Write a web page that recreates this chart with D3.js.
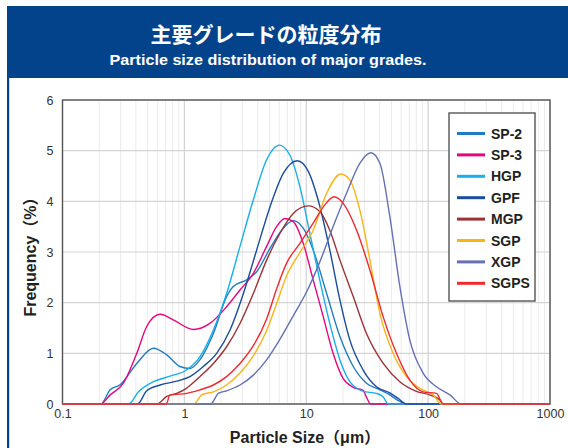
<!DOCTYPE html>
<html lang="ja">
  <head>
    <meta charset="UTF-8" />
    <title>主要グレードの粒度分布</title>
    <style>
      html, body { margin: 0; padding: 0; background: #fff; }
      svg { display: block; }
    </style>
  </head>
  <body>
    <div id="chart"></div>

    <script src="https://d3js.org/d3.v7.min.js"></script>

    <script>
      // [particle size (um), frequency (%)]
      const sp2 = [[0.1,0],[0.206,0],[0.246,0.28],[0.297,0.38],[0.407,0.8],[0.557,1.1],[0.717,0.97],[0.921,0.74],[1.11,0.7],[1.34,0.87],[1.73,1.39],[2.22,2.12],[2.52,2.32],[3.24,2.45],[3.92,2.61],[5.04,3.07],[6.48,3.47],[7.82,3.62],[9.45,3.47],[11.4,3.04],[14.7,2.18],[18.9,1.33],[24.3,0.74],[31.2,0.41],[40.2,0.28],[48.5,0.18],[58.6,0.05],[66.4,0],[1000,0]];
      const sp3 = [[0.1,0],[0.206,0],[0.246,0.18],[0.316,0.41],[0.407,1.0],[0.491,1.53],[0.632,1.77],[0.81,1.66],[1.19,1.47],[1.62,1.59],[2.22,1.92],[2.86,2.25],[3.68,2.58],[4.73,3.11],[5.71,3.5],[6.68,3.66],[7.82,3.6],[9.45,3.17],[11.4,2.45],[13.8,1.72],[16.6,1.0],[20.1,0.5],[24.3,0.33],[29.3,0.27],[31.4,0.12],[33.7,0],[1000,0]];
      const hgp = [[0.1,0],[0.348,0],[0.42,0.24],[0.557,0.44],[0.763,0.55],[1.04,0.67],[1.34,0.93],[1.73,1.46],[2.22,2.18],[2.86,3.11],[3.68,4.03],[4.73,4.82],[6.01,5.11],[7.35,4.91],[8.87,4.29],[10.7,3.37],[12.9,2.45],[15.6,1.59],[18.9,0.87],[22.8,0.44],[29.3,0.25],[37.7,0.21],[42.8,0.14],[47,0],[1000,0]];
      const gpf = [[0.1,0],[0.412,0],[0.491,0.26],[0.632,0.375],[0.865,0.45],[1.11,0.54],[1.43,0.74],[1.84,1.0],[2.37,1.46],[3.05,2.18],[3.92,3.04],[5.04,3.89],[6.48,4.55],[8.44,4.8],[10.4,4.59],[12.5,4.03],[15.6,3.04],[18.9,2.05],[22.8,1.26],[29.3,0.67],[37.7,0.34],[48.5,0.22],[56.8,0.11],[66.4,0],[1000,0]];
      const mgp = [[0.1,0],[0.593,0],[0.717,0.15],[0.865,0.21],[1.04,0.31],[1.34,0.54],[1.73,0.8],[2.22,1.13],[2.86,1.59],[3.68,2.18],[4.73,2.84],[6.09,3.37],[7.82,3.76],[10.4,3.91],[12.9,3.8],[15.6,3.43],[18.9,2.84],[24.3,2.12],[31.2,1.39],[42.8,0.8],[58.6,0.44],[80.2,0.25],[103,0.18],[125,0.08],[133,0],[1000,0]];
      const sgp = [[0.1,0],[1.19,0],[1.39,0.18],[1.73,0.24],[2.22,0.375],[2.86,0.61],[3.68,0.95],[4.73,1.45],[5.71,1.98],[6.9,2.53],[8.87,2.99],[11.4,3.43],[14.7,4.16],[19.2,4.54],[22.8,4.42],[27.5,3.83],[33.3,2.84],[40.2,1.79],[51.6,1.0],[66.4,0.54],[85.5,0.31],[110,0.18],[129,0],[1000,0]];
      const xgp = [[0.1,0],[1.64,0],[1.9,0.21],[2.22,0.26],[2.86,0.375],[3.68,0.57],[4.73,0.87],[6.09,1.28],[7.82,1.74],[10.1,2.22],[12.9,2.8],[16.6,3.5],[21.4,4.16],[27.5,4.75],[33.9,4.96],[40.2,4.75],[48.5,3.7],[58.6,2.32],[70.8,1.26],[91,0.61],[117,0.34],[151,0.18],[187,0],[1000,0]];
      const sgps = [[0.1,0],[0.708,0],[0.763,0.18],[0.98,0.2],[1.34,0.28],[1.73,0.375],[2.22,0.54],[2.86,0.8],[3.68,1.15],[4.73,1.68],[5.71,2.27],[6.9,2.78],[8.87,3.17],[11.4,3.57],[14.2,3.93],[16.9,4.09],[20.1,3.96],[25.9,3.43],[33.3,2.64],[42.8,1.72],[55,1.0],[70.8,0.47],[91,0.24],[117,0.21],[133,0],[1000,0]];

      const seriesNames = ["SP-2", "SP-3", "HGP", "GPF", "MGP", "SGP", "XGP", "SGPS"];
      const seriesValues = [sp2, sp3, hgp, gpf, mgp, sgp, xgp, sgps];
      const seriesColors = ["#1f7cc2", "#e4087f", "#18aeea", "#1b4d9c", "#993336", "#fbb316", "#6670b4", "#ee2a2f"];

      const xTicks = [0.1, 1, 10, 100, 1000];
      const xTickLabels = ["0.1", "1", "10", "100", "1000"];
      const yTicks = [0, 1, 2, 3, 4, 5, 6];

      const width = 568;
      const height = 448;
      const plot = {left: 62.5, right: 550, top: 100, bottom: 404};
      const navy = "#03438b";
      const latin = "'Liberation Sans', Arial, 'Noto Sans CJK JP', sans-serif";
      const cjk = "'Noto Sans CJK JP', 'Liberation Sans', sans-serif";

      const svg = d3.select("#chart").append("svg")
          .attr("width", width)
          .attr("height", height)
          .attr("viewBox", [0, 0, width, height]);

      // header band + left rule
      svg.append("rect")
          .attr("x", 7).attr("y", 6)
          .attr("width", width - 7).attr("height", 72)
          .attr("fill", navy);
      svg.append("rect")
          .attr("x", 7).attr("y", 78)
          .attr("width", 2.2).attr("height", height - 78)
          .attr("fill", navy);

      svg.append("text")
          .attr("x", 266).attr("y", 42)
          .attr("text-anchor", "middle")
          .attr("fill", "#fff")
          .attr("font-family", cjk)
          .attr("font-weight", "bold")
          .attr("font-size", 21)
          .text("主要グレードの粒度分布");
      svg.append("text")
          .attr("x", 268).attr("y", 65)
          .attr("text-anchor", "middle")
          .attr("fill", "#fff")
          .attr("font-family", latin)
          .attr("font-weight", "bold")
          .attr("font-size", 15.5)
          .attr("textLength", 317)
          .attr("lengthAdjust", "spacingAndGlyphs")
          .text("Particle size distribution of major grades.");

      const x = d3.scaleLog().domain([0.1, 1000]).range([plot.left, plot.right]);
      const y = d3.scaleLinear().domain([0, 6]).range([plot.bottom, plot.top]);

      // grid
      const minor = [];
      for (let e = -1; e < 3; e++) {
        for (let k = 2; k <= 9; k++) minor.push(k * Math.pow(10, e));
      }
      const grid = svg.append("g");
      grid.selectAll(".minor")
        .data(minor)
        .join("line")
          .attr("x1", d => x(d)).attr("x2", d => x(d))
          .attr("y1", plot.top).attr("y2", plot.bottom)
          .attr("stroke", "#ebebeb")
          .attr("stroke-width", 1);
      grid.selectAll(".major")
        .data(xTicks)
        .join("line")
          .attr("x1", d => x(d)).attr("x2", d => x(d))
          .attr("y1", plot.top).attr("y2", plot.bottom)
          .attr("stroke", "#d2d2d2")
          .attr("stroke-width", 1.2);
      grid.selectAll(".hline")
        .data(yTicks)
        .join("line")
          .attr("x1", plot.left).attr("x2", plot.right)
          .attr("y1", d => y(d)).attr("y2", d => y(d))
          .attr("stroke", "#d4d4d4")
          .attr("stroke-width", 1.2);

      // axes (labels only)
      svg.append("g")
          .attr("transform", `translate(0,${plot.bottom})`)
          .call(d3.axisBottom(x).tickValues(xTicks).tickSize(0).tickPadding(5)
            .tickFormat((d, i) => xTickLabels[i]))
          .call(g => g.select(".domain").remove())
          .call(g => g.selectAll("text")
              .attr("font-family", latin)
              .attr("font-size", 12.5)
              .attr("fill", "#333"));
      svg.append("g")
          .attr("transform", `translate(${plot.left},0)`)
          .call(d3.axisLeft(y).tickValues(yTicks).tickSize(0).tickPadding(9)
            .tickFormat(d3.format("d")))
          .call(g => g.select(".domain").remove())
          .call(g => g.selectAll("text")
              .attr("font-family", latin)
              .attr("font-size", 12.5)
              .attr("fill", "#333"));

      // frame
      svg.append("rect")
          .attr("x", plot.left).attr("y", plot.top)
          .attr("width", plot.right - plot.left)
          .attr("height", plot.bottom - plot.top)
          .attr("fill", "none")
          .attr("stroke", "#555")
          .attr("stroke-width", 1.4);

      // curves
      const line = d3.line()
          .x(d => x(d[0]))
          .y(d => y(d[1]))
          .curve(d3.curveMonotoneX);

      svg.append("g")
          .attr("fill", "none")
          .attr("stroke-width", 1.4)
          .attr("stroke-linejoin", "round")
        .selectAll("path")
        .data(seriesValues)
        .join("path")
          .attr("stroke", (d, i) => seriesColors[i])
          .attr("d", line);

      // axis titles
      svg.append("text")
          .attr("x", 305).attr("y", 443)
          .attr("text-anchor", "middle")
          .attr("fill", "#231f20")
          .attr("font-family", latin)
          .attr("font-weight", "bold")
          .attr("font-size", 16)
          .text("Particle Size（μm）");
      svg.append("text")
          .attr("transform", "translate(36,253) rotate(-90)")
          .attr("text-anchor", "middle")
          .attr("fill", "#231f20")
          .attr("font-family", latin)
          .attr("font-weight", "bold")
          .attr("font-size", 16)
          .text("Frequency（%）");

      // legend
      const legend = svg.append("g").attr("transform", "translate(449,113)");
      legend.append("rect")
          .attr("width", 86).attr("height", 188)
          .attr("fill", "#fff")
          .attr("stroke", "#555")
          .attr("stroke-width", 1.4);
      const item = legend.selectAll(".item")
        .data(seriesNames)
        .join("g")
          .attr("transform", (d, i) => `translate(0,${20.5 + i * 21.4})`);
      item.append("line")
          .attr("x1", 8).attr("x2", 36)
          .attr("stroke", (d, i) => seriesColors[i])
          .attr("stroke-width", 3);
      item.append("text")
          .attr("x", 42).attr("dy", "0.36em")
          .attr("fill", "#231f20")
          .attr("font-family", latin)
          .attr("font-weight", "bold")
          .attr("font-size", 14)
          .text(d => d);
    </script>
  </body>
</html>
